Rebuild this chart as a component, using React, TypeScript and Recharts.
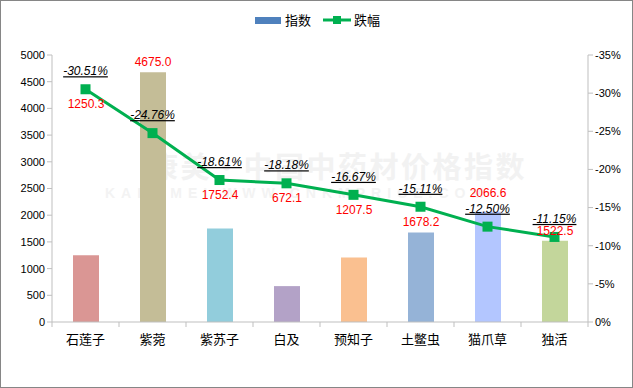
import { ComposedChart, Bar, Line, XAxis, YAxis, Cell, LabelList } from "recharts"

const categories = ["石莲子", "紫菀", "紫苏子", "白及", "预知子", "土鳖虫", "猫爪草", "独活"]
const indexValues = [1250.3, 4675.0, 1752.4, 672.1, 1207.5, 1678.2, 2066.6, 1522.5]
const changePct = [-30.51, -24.76, -18.61, -18.18, -16.67, -15.11, -12.5, -11.15]
const leftTicks = [0, 500, 1000, 1500, 2000, 2500, 3000, 3500, 4000, 4500, 5000]
const rightTicks = [0, -5, -10, -15, -20, -25, -30, -35]

const LEFT_MAX = 5000
const RIGHT_MIN = -35

const barColors = ["#DA9694", "#C4BD97", "#92CDDC", "#B3A2C7", "#FAC090", "#95B3D7", "#B3C6FF", "#C3D69B"]

const data = categories.map((name, i) => ({
  name,
  index: indexValues[i],
  change: changePct[i],
}))

const LINE_GREEN = "#00B050"
const AXIS_GRAY = "#BFBFBF"
const NUM_FONT = "'Liberation Sans', Arial, sans-serif"
const CJK_FONT = "'Noto Sans CJK SC', sans-serif"

function SquareDot(props: any) {
  const { cx, cy } = props
  if (cx == null || cy == null) return null
  return <rect x={cx - 5} y={cy - 5} width={10} height={10} fill={LINE_GREEN} />
}

function PctLabel(props: any) {
  const { x, y, value } = props
  return (
    <text
      x={x}
      y={y - 14}
      textAnchor="middle"
      fontSize={12}
      fontStyle="italic"
      fontFamily={NUM_FONT}
      fill="#000"
      style={{ textDecoration: "underline" }}
    >
      {`${value.toFixed(2)}%`}
    </text>
  )
}

// red value label: kept clear of the percent label of the same category
function ValueLabel(props: any) {
  const { x, y, width, height, value, index } = props
  const bottom = y + height
  const plotH = (LEFT_MAX * height) / value
  const top = bottom - plotH
  const pointY = top + ((changePct[index] - RIGHT_MIN) / -RIGHT_MIN) * plotH
  let ty
  if (y < pointY - 10) ty = Math.min(y - 6, pointY - 30)
  else ty = Math.min(y - 6, pointY + 19)
  return (
    <text x={x + width / 2} y={ty} textAnchor="middle" fontSize={12} fontFamily={NUM_FONT} fill="#FF0000">
      {value.toFixed(1)}
    </text>
  )
}

function LegendBox() {
  return (
    <div
      style={{
        position: "absolute",
        top: 10,
        left: 0,
        width: 633,
        display: "flex",
        justifyContent: "center",
        alignItems: "center",
        fontFamily: CJK_FONT,
        fontSize: 13,
        lineHeight: "18px",
      }}
    >
      <span style={{ display: "inline-block", width: 26, height: 7, background: "#4F81BD", marginRight: 4 }} />
      <span style={{ marginRight: 12 }}>指数</span>
      <svg width={28} height={10} style={{ marginRight: 3 }}>
        <line x1={0} y1={5} x2={28} y2={5} stroke={LINE_GREEN} strokeWidth={3} />
        <rect x={10} y={1} width={8} height={8} fill={LINE_GREEN} />
      </svg>
      <span>跌幅</span>
    </div>
  )
}

function CategoryTick(props: any) {
  const { x, y, payload, index } = props
  const half = payload.offset || 0
  return (
    <g>
      <line x1={x - half} y1={y} x2={x - half} y2={y + 5} stroke={AXIS_GRAY} />
      {index === categories.length - 1 && (
        <line x1={x + half} y1={y} x2={x + half} y2={y + 5} stroke={AXIS_GRAY} />
      )}
      <text x={x} y={y + 22} textAnchor="middle" fontSize={13} fontFamily={CJK_FONT} fill="#000">
        {payload.value}
      </text>
    </g>
  )
}

export default function App() {
  return (
    <div
      style={{
        position: "relative",
        width: 633,
        height: 388,
        border: "1px solid #868686",
        boxSizing: "border-box",
        background: "#fff",
      }}
    >
      <style>{`body{margin:0}`}</style>
      {/* watermark */}
      <div
        style={{
          position: "absolute",
          left: 148,
          top: 143,
          fontFamily: CJK_FONT,
          fontWeight: 700,
          fontSize: 29,
          color: "#F2F2F2",
          letterSpacing: 2.5,
          whiteSpace: "nowrap",
        }}
      >
        康美·中国中药材价格指数
      </div>
      <div
        style={{
          position: "absolute",
          left: 104,
          top: 184,
          fontFamily: NUM_FONT,
          fontWeight: 700,
          fontSize: 14,
          color: "#F3F3F3",
          letterSpacing: 6,
          whiteSpace: "nowrap",
        }}
      >
        KANGMEI WWW.CNKMPRICE.COM
      </div>
      <LegendBox />
      <div style={{ position: "absolute", left: -1, top: -1 }}>
        <ComposedChart width={633} height={388} data={data} margin={{ top: 55, right: 0, bottom: 36, left: 0 }}>
          <XAxis
            dataKey="name"
            height={30}
            axisLine={{ stroke: AXIS_GRAY }}
            tickLine={false}
            tickSize={0}
            tickMargin={0}
            tick={<CategoryTick />}
            interval={0}
          />
          <YAxis
            yAxisId="left"
            domain={[0, LEFT_MAX]}
            ticks={leftTicks}
            width={52}
            axisLine={{ stroke: AXIS_GRAY }}
            tickLine={{ stroke: AXIS_GRAY }}
            tickSize={5}
            tick={{ fontSize: 11, fontFamily: NUM_FONT, fill: "#000" }}
          />
          <YAxis
            yAxisId="right"
            orientation="right"
            domain={[RIGHT_MIN, 0]}
            reversed
            ticks={rightTicks}
            width={45}
            axisLine={{ stroke: AXIS_GRAY }}
            tickLine={{ stroke: AXIS_GRAY }}
            tickSize={5}
            tickFormatter={(v: number) => `${v}%`}
            tick={{ fontSize: 11, fontFamily: NUM_FONT, fill: "#000", textAnchor: "start" }}
          />
          <Bar yAxisId="left" dataKey="index" barSize={26} isAnimationActive={false}>
            {data.map((d, i) => (
              <Cell key={d.name} fill={barColors[i]} />
            ))}
            <LabelList dataKey="index" content={<ValueLabel />} />
          </Bar>
          <Line
            yAxisId="right"
            dataKey="change"
            stroke={LINE_GREEN}
            strokeWidth={3}
            dot={<SquareDot />}
            activeDot={false}
            isAnimationActive={false}
          >
            <LabelList dataKey="change" content={<PctLabel />} />
          </Line>
        </ComposedChart>
      </div>
    </div>
  )
}
